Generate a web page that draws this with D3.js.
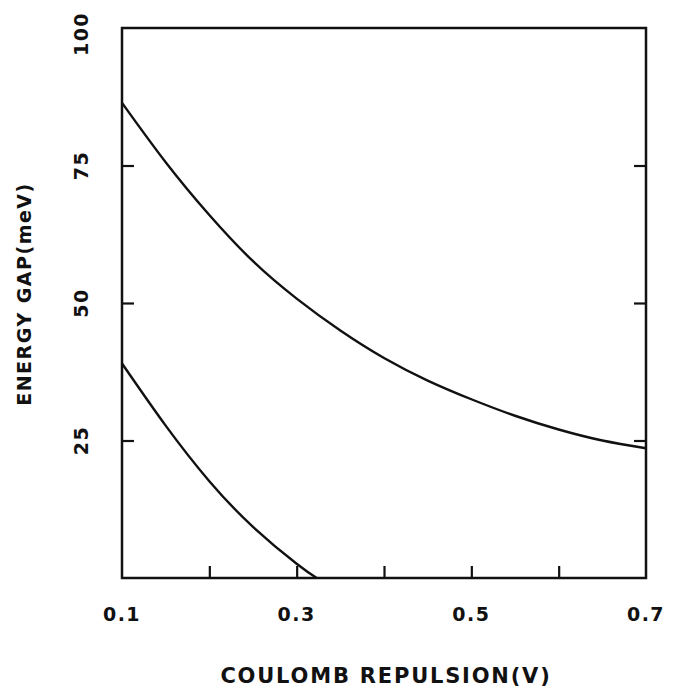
<!DOCTYPE html>
<html>
<head>
<meta charset="utf-8">
<script src="https://cdn.jsdelivr.net/npm/d3@7"></script>
<style>
  html, body { margin: 0; padding: 0; background: #fff; }
  svg { display: block; }
  text { font-family: "DejaVu Sans", sans-serif; font-weight: bold; fill: #111; }
</style>
</head>
<body>
<svg id="chart" width="675" height="688"></svg>
<script>
// ---- data ----
const upperV   = [0.10, 0.15, 0.20, 0.25, 0.30, 0.35, 0.40, 0.45, 0.50, 0.55, 0.60, 0.65, 0.70];
const upperGap = [86.4, 75.6, 66.0, 57.6, 50.8, 45.0, 40.0, 35.9, 32.5, 29.5, 27.0, 25.0, 23.6];
const lowerV   = [0.10, 0.15, 0.20, 0.25, 0.30, 0.323];
const lowerGap = [39.0, 27.7, 17.6, 9.3, 2.6, 0.0];
const xTickVals   = [0.2, 0.3, 0.4, 0.5, 0.6];
const xLabelVals  = [0.1, 0.3, 0.5, 0.7];
const yTickVals   = [25, 50, 75];
const yLabelVals  = [25, 50, 75, 100];
const xTitle = "COULOMB REPULSION(V)";
const yTitle = "ENERGY GAP(meV)";

// ---- layout ----
const L = 122, R = 646, T = 28, B = 578;
const svg = d3.select("#chart");
const x = d3.scaleLinear().domain([0.1, 0.7]).range([L, R]);
const y = d3.scaleLinear().domain([0, 100]).range([B, T]);
const tickLen = 12;

// frame
svg.append("rect")
  .attr("x", L).attr("y", T).attr("width", R - L).attr("height", B - T)
  .attr("fill", "none").attr("stroke", "#111").attr("stroke-width", 2.5);

// inner ticks via d3 axes
const axB = svg.append("g").attr("transform", `translate(0,${B})`)
  .call(d3.axisBottom(x).tickValues(xTickVals).tickSize(-tickLen).tickFormat(""));
const axL = svg.append("g").attr("transform", `translate(${L},0)`)
  .call(d3.axisLeft(y).tickValues(yTickVals).tickSize(-tickLen).tickFormat(""));
const axR = svg.append("g").attr("transform", `translate(${R},0)`)
  .call(d3.axisRight(y).tickValues(yTickVals).tickSize(-tickLen).tickFormat(""));
[axB, axL, axR].forEach(g => {
  g.select(".domain").remove();
  g.selectAll(".tick line").attr("stroke", "#111").attr("stroke-width", 2.2);
});

// x tick labels
svg.append("g").selectAll("text").data(xLabelVals).join("text")
  .attr("x", d => x(d)).attr("y", 621)
  .attr("text-anchor", "middle")
  .attr("font-size", 19).attr("letter-spacing", 1.5)
  .text(d => d3.format(".1f")(d));

// y tick labels (rotated)
svg.append("g").selectAll("text").data(yLabelVals).join("text")
  .attr("transform", d => `translate(88,${d === 100 ? y(d) + 6 : y(d)}) rotate(-90)`)
  .attr("text-anchor", "middle")
  .attr("font-size", 19).attr("letter-spacing", 1.5)
  .text(d => d);

// curves
const line = d3.line().x(d => x(d[0])).y(d => y(d[1])).curve(d3.curveNatural);
svg.append("path").datum(d3.zip(upperV, upperGap))
  .attr("d", line).attr("fill", "none").attr("stroke", "#111").attr("stroke-width", 2.4);
svg.append("path").datum(d3.zip(lowerV, lowerGap))
  .attr("d", line).attr("fill", "none").attr("stroke", "#111").attr("stroke-width", 2.4);

// axis titles
svg.append("text").attr("x", 386).attr("y", 683)
  .attr("text-anchor", "middle").attr("font-size", 21).attr("letter-spacing", 1.8)
  .text(xTitle);
svg.append("text").attr("transform", "translate(31,294) rotate(-90)")
  .attr("text-anchor", "middle").attr("font-size", 19).attr("letter-spacing", 1.5)
  .text(yTitle);
</script>
</body>
</html>
